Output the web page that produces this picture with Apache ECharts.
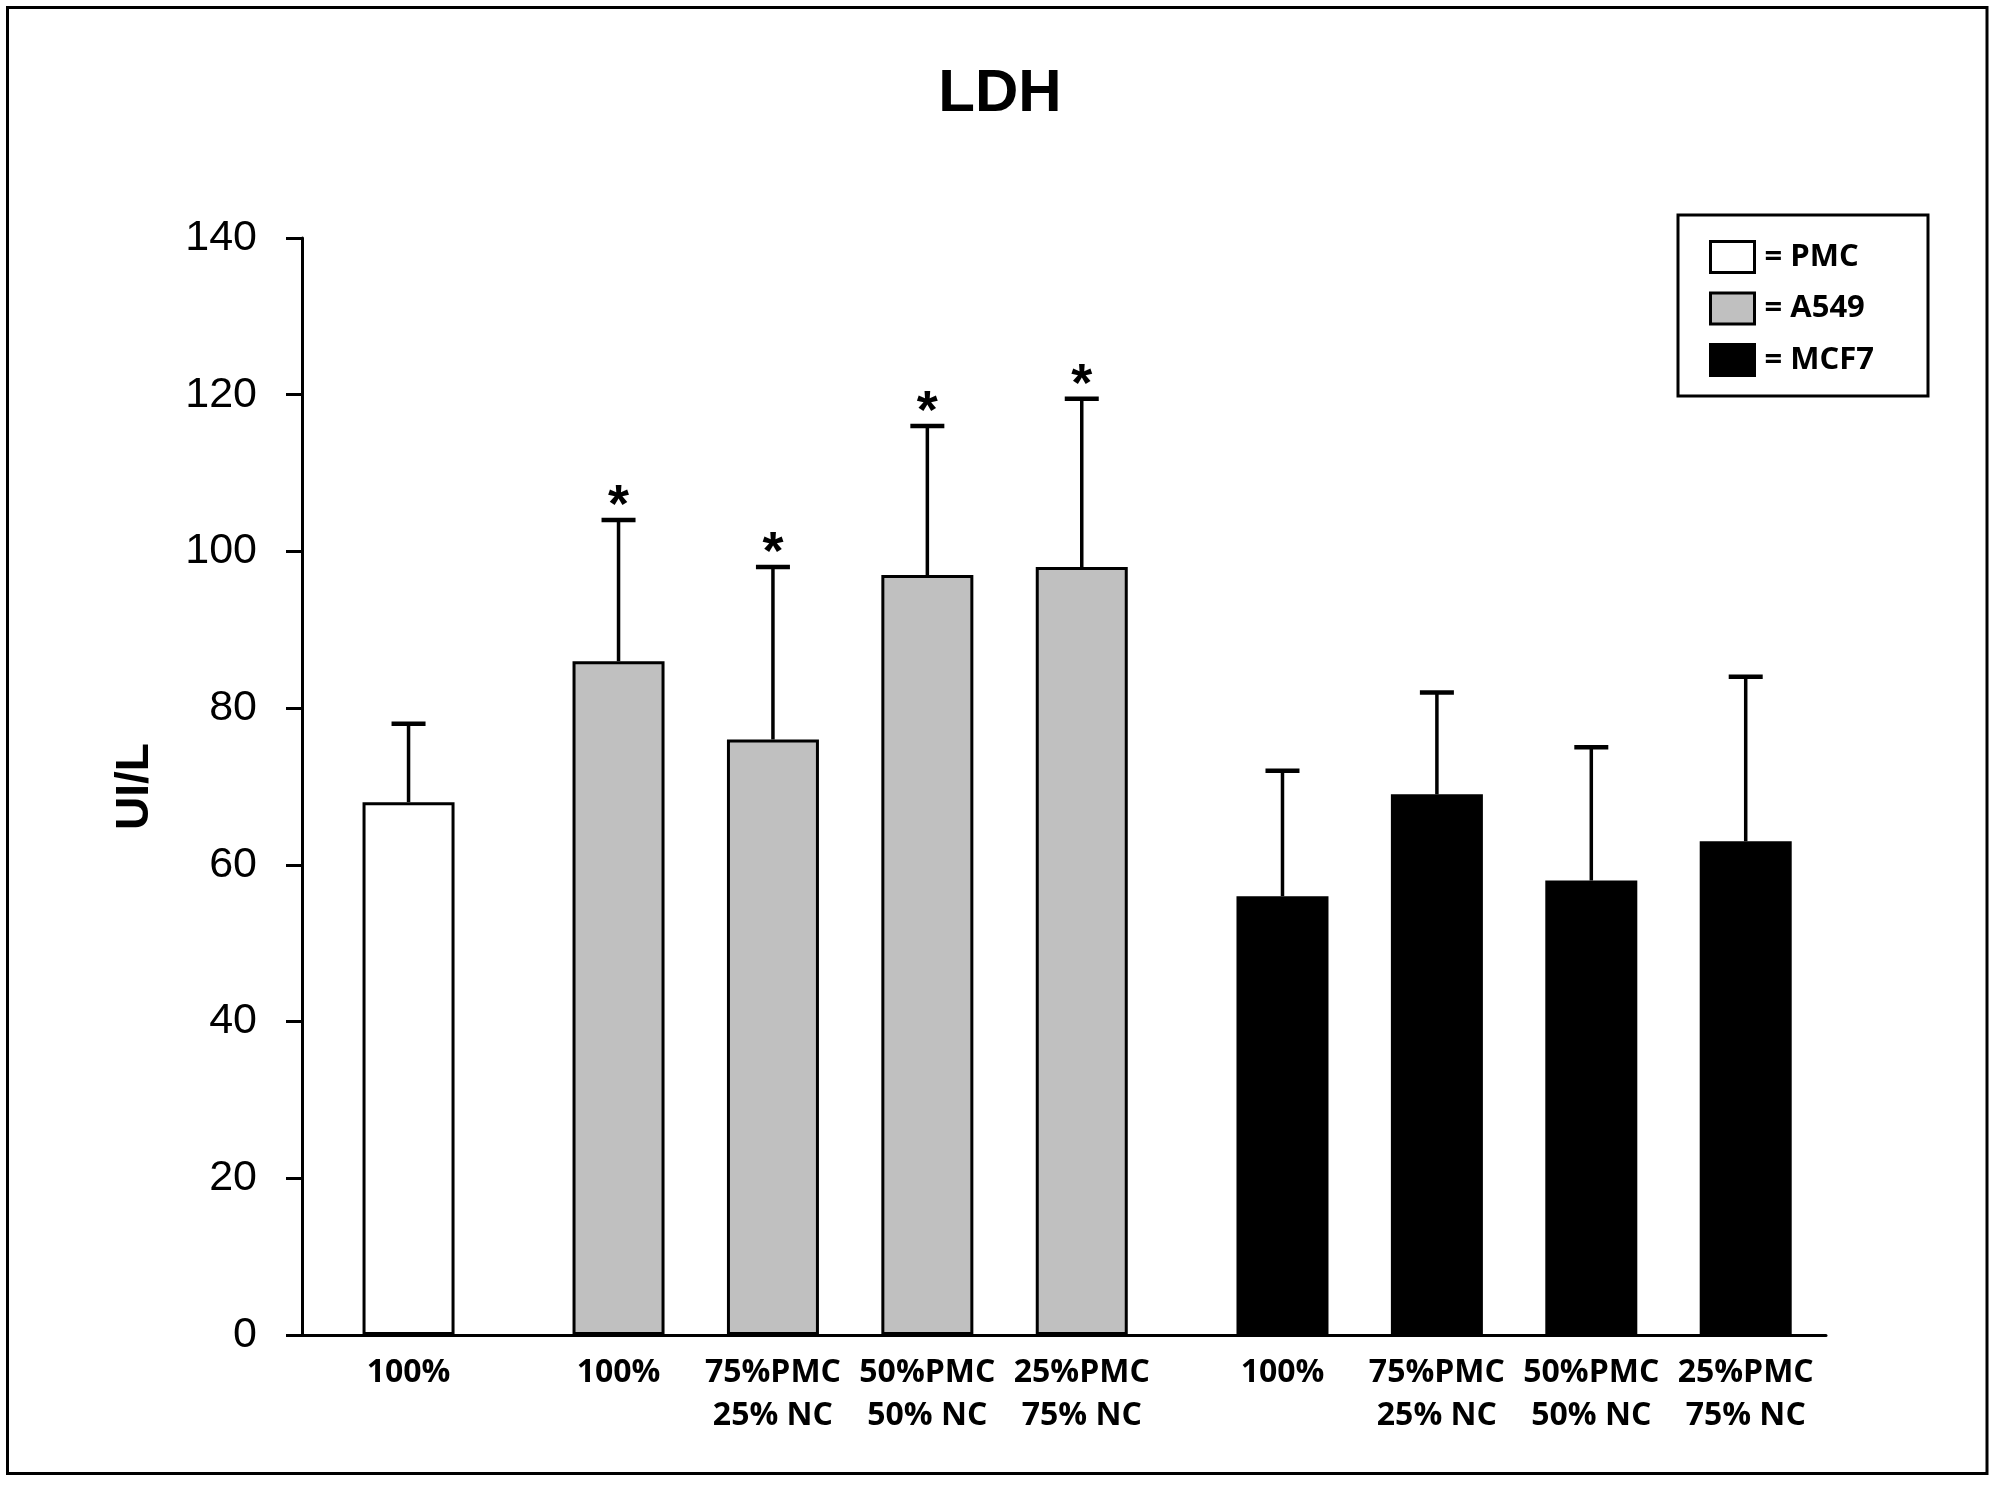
<!DOCTYPE html>
<html>
<head>
<meta charset="utf-8">
<script src="https://cdn.jsdelivr.net/npm/echarts@6/dist/echarts.min.js"></script>
<style>
html,body{margin:0;padding:0;background:#fff;}
#chart{width:2000px;height:1489px;}
</style>
</head>
<body>
<div id="chart"></div>
<script>
// ---- data ----
const groupNames = ['PMC', 'A549', 'MCF7'];
const groupSizes = [1, 4, 4];
const categories = ['100%', '100%', '75%PMC\n25% NC', '50%PMC\n50% NC', '25%PMC\n75% NC',
                    '100%', '75%PMC\n25% NC', '50%PMC\n50% NC', '25%PMC\n75% NC'];
const means = [68, 86, 76, 97, 98, 56, 69, 58, 63];
const errors = [10, 18, 22, 19, 21.5, 16, 13, 17, 21];
const marks = ['', '*', '*', '*', '*', '', '', '', ''];
const yTicks = [0, 20, 40, 60, 80, 100, 120, 140];

// ---- layout helpers ----
const groupGaps = [0.36, 0.30];
const positions = [];
const groupOf = [];
(function () {
  let p = 0;
  groupSizes.forEach((n, g) => {
    for (let i = 0; i < n; i++) { positions.push(p); groupOf.push(g); p += 1; }
    p += groupGaps[g] || 0;
  });
})();

const fills = ['#ffffff', '#c0c0c0', '#000000'];
const barSeries = groupNames.map((name, g) => ({
  name: name,
  type: 'bar',
  barWidth: 92,
  barGap: '-100%',
  itemStyle: { color: fills[g], borderColor: '#000', borderWidth: 3 },
  data: positions.map((p, i) => groupOf[i] === g ? [p, means[i]] : null).filter(d => d),
  z: 2
}));

const errData = positions.map((p, i) => [p, means[i], means[i] + errors[i], i]);

const chart = echarts.init(document.getElementById('chart'), null, { renderer: 'canvas' });
chart.setOption({
  backgroundColor: '#ffffff',
  animation: false,
  title: {
    text: 'LDH',
    left: 'center',
    top: 59,
    textStyle: { fontFamily: 'Liberation Sans, Arial, sans-serif', fontWeight: 'bold', fontSize: 60, color: '#000' }
  },
  legend: {
    orient: 'vertical',
    left: 1678,
    top: 215,
    padding: [25, 54, 19, 31],
    itemWidth: 44,
    itemHeight: 31,
    itemGap: 17.5,
    icon: 'rect',
    borderColor: '#000',
    borderWidth: 3,
    itemStyle: { borderColor: '#000', borderWidth: 3 },
    formatter: '= {name}',
    textStyle: { fontFamily: 'Open Sans, sans-serif', fontWeight: 'bold', fontSize: 31, color: '#000', lineHeight: 31, padding: [0, 0, 0, 5] },
    data: groupNames
  },
  grid: { left: 302, top: 238, right: 174, bottom: 154, containLabel: false },
  xAxis: {
    type: 'value',
    min: -0.69,
    max: 9.18,
    axisLine: { show: true, onZero: false, lineStyle: { color: '#000', width: 3 } },
    axisTick: { show: false },
    splitLine: { show: false },
    axisLabel: {
      show: true,
      customValues: positions,
      margin: 16,
      fontFamily: 'Open Sans, sans-serif',
      fontWeight: 'bold',
      fontSize: 32,
      lineHeight: 43,
      color: '#000',
      verticalAlign: 'top',
      formatter: function (v) {
        let best = 0;
        positions.forEach((p, i) => { if (Math.abs(p - v) < Math.abs(positions[best] - v)) best = i; });
        return categories[best];
      }
    }
  },
  yAxis: {
    type: 'value',
    min: yTicks[0],
    max: yTicks[yTicks.length - 1],
    interval: 20,
    name: 'UI/L',
    nameLocation: 'middle',
    nameGap: 144,
    nameTextStyle: { fontFamily: 'Liberation Sans, Arial, sans-serif', fontWeight: 'bold', fontSize: 46, color: '#000' },
    axisLine: { show: true, onZero: false, lineStyle: { color: '#000', width: 3 } },
    axisTick: { show: true, inside: false, length: 16, lineStyle: { color: '#000', width: 3 } },
    splitLine: { show: false },
    axisLabel: {
      margin: 45,
      fontFamily: "'Liberation Sans Narrow', 'Arial Narrow', 'Liberation Sans', sans-serif",
      fontSize: 43,
      color: '#000'
    }
  },
  graphic: [{
    type: 'rect',
    shape: { x: 7.5, y: 7.5, width: 1979.5, height: 1466 },
    style: { fill: null, stroke: '#000', lineWidth: 3 },
    silent: true,
    z: 100
  }],
  series: barSeries.concat([{
    type: 'custom',
    name: 'err',
    data: errData,
    z: 5,
    renderItem: function (params, api) {
      const x = api.value(0);
      const lo = api.coord([x, api.value(1)]);
      const hi = api.coord([x, api.value(2)]);
      const idx = api.value(3);
      const half = 17;
      const children = [
        { type: 'line', shape: { x1: lo[0], y1: lo[1], x2: hi[0], y2: hi[1] }, style: { stroke: '#000', lineWidth: 3.5 } },
        { type: 'line', shape: { x1: hi[0] - half, y1: hi[1], x2: hi[0] + half, y2: hi[1] }, style: { stroke: '#000', lineWidth: 4.5 } }
      ];
      if (marks[idx]) {
        children.push({
          type: 'text',
          style: {
            text: marks[idx], x: hi[0], y: hi[1] + 14,
            fill: '#000', font: 'bold 54px "Liberation Sans", Arial, sans-serif',
            textAlign: 'center', textVerticalAlign: 'bottom'
          }
        });
      }
      return { type: 'group', children: children };
    }
  }])
});
</script>
</body>
</html>
